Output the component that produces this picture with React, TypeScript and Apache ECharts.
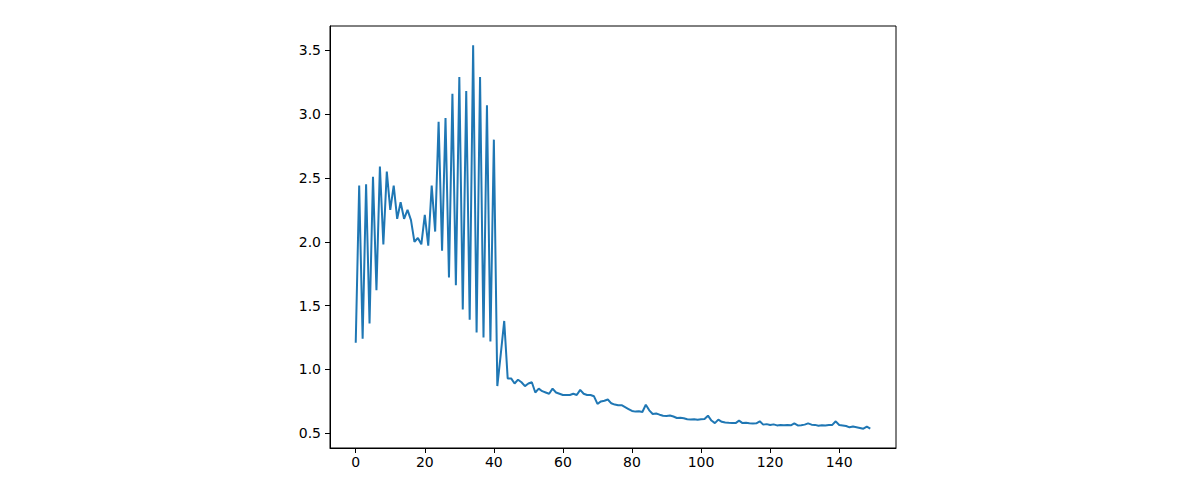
import React, { useEffect, useRef } from 'react';
import * as echarts from 'echarts';

// series values, one per step 0..149
const lossValues: number[] = [
  1.21, 2.44, 1.24, 2.45, 1.36, 2.51, 1.62, 2.59, 1.98, 2.55,
  2.25, 2.44, 2.18, 2.31, 2.18, 2.25, 2.17, 2.0, 2.03, 1.98,
  2.21, 1.97, 2.44, 2.08, 2.94, 1.93, 2.97, 1.72, 3.16, 1.66,
  3.29, 1.47, 3.18, 1.39, 3.54, 1.29, 3.29, 1.25, 3.07, 1.22,
  2.8, 0.87, 1.12, 1.38, 0.93, 0.93, 0.89, 0.92, 0.9, 0.87,
  0.89, 0.9, 0.82, 0.85, 0.83, 0.82, 0.81, 0.85, 0.82, 0.81,
  0.8, 0.8, 0.8, 0.81, 0.8, 0.84, 0.81, 0.8, 0.8, 0.79,
  0.73, 0.75, 0.755, 0.765, 0.735, 0.725, 0.72, 0.72, 0.705, 0.69,
  0.675, 0.67, 0.672, 0.667, 0.724, 0.68, 0.651, 0.655, 0.646, 0.638,
  0.636, 0.64, 0.632, 0.62, 0.622, 0.618, 0.61, 0.608, 0.61, 0.607,
  0.61, 0.612, 0.638, 0.6, 0.58, 0.607, 0.59, 0.585, 0.582, 0.58,
  0.58, 0.599, 0.58, 0.582, 0.578, 0.577, 0.578, 0.594, 0.568, 0.572,
  0.565, 0.57, 0.562, 0.565, 0.563, 0.566, 0.563, 0.578, 0.562, 0.564,
  0.568, 0.578, 0.568, 0.566, 0.56, 0.564, 0.562, 0.565, 0.566, 0.594,
  0.565, 0.562, 0.557, 0.547, 0.553, 0.548, 0.542, 0.536, 0.552, 0.536,
];

const xTicks: number[] = [0, 20, 40, 60, 80, 100, 120, 140];
const yTicks: number[] = [0.5, 1.0, 1.5, 2.0, 2.5, 3.0, 3.5];

const tickFont = {
  color: '#000000',
  fontFamily: 'DejaVu Sans',
  fontSize: 14,
};

const App: React.FC = () => {
  const chartRef = useRef<HTMLDivElement>(null);

  useEffect(() => {
    if (!chartRef.current) return;
    document.body.style.margin = '0';
    const chart = echarts.init(chartRef.current, null, { renderer: 'svg' });

    chart.setOption({
      animation: false,
      backgroundColor: '#ffffff',
      grid: {
        left: 330,
        right: 304,
        top: 26,
        bottom: 52,
        show: true,
        borderColor: '#000000',
        borderWidth: 1,
        backgroundColor: 'transparent',
      },
      xAxis: {
        type: 'value',
        min: -7.45,
        max: 156.45,
        axisLine: { show: true, onZero: false, lineStyle: { color: '#000000', width: 1 } },
        axisTick: { show: true, length: 5, customValues: xTicks, lineStyle: { color: '#000000' } },
        axisLabel: { ...tickFont, margin: 7, customValues: xTicks, formatter: (v: number) => String(v) },
        splitLine: { show: false },
      },
      yAxis: {
        type: 'value',
        min: 0.385,
        max: 3.69,
        axisLine: { show: true, onZero: false, lineStyle: { color: '#000000', width: 1 } },
        axisTick: { show: true, length: 5, customValues: yTicks, lineStyle: { color: '#000000' } },
        axisLabel: { ...tickFont, margin: 9, customValues: yTicks, formatter: (v: number) => v.toFixed(1) },
        splitLine: { show: false },
      },
      series: [
        {
          type: 'line',
          data: lossValues.map((v, i) => [i, v]),
          showSymbol: false,
          lineStyle: { color: '#1f77b4', width: 2 },
          itemStyle: { color: '#1f77b4' },
        },
      ],
    });

    return () => {
      chart.dispose();
    };
  }, []);

  return (
    <div
      ref={chartRef}
      style={{ position: 'absolute', left: 0, top: 0, width: '1200px', height: '500px' }}
    />
  );
};

export default App;
